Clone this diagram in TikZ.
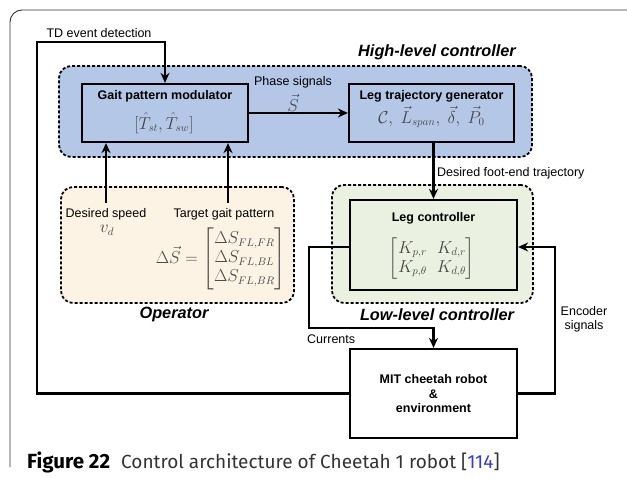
\documentclass[tikz,border=0pt]{standalone}
\usepackage{amsmath}
\usepackage{fontspec}
\setmainfont{Liberation Sans}
\newfontfamily\capfont{Fira Sans}
\usetikzlibrary{arrows.meta}
\definecolor{hlblue}{HTML}{B4C7E7}
\definecolor{opcream}{HTML}{FDF3E4}
\definecolor{llgreen}{HTML}{EBF1E1}
\definecolor{mathgray}{HTML}{484848}
\definecolor{refblue}{HTML}{3B3BD0}
\definecolor{capgray}{HTML}{333333}
\tikzset{
  grp/.style={draw, line width=1.8pt, dash pattern=on 3pt off 2pt, rounded corners=12pt, inner sep=0},
  blk/.style={draw, line width=2.2pt, inner sep=0},
  conn/.style={line width=2.2pt},
  arr/.style={conn, -{Stealth[length=10pt,width=9pt]}},
  lbl/.style={font=\fontsize{12.5}{14}\selectfont, inner sep=0},
  ttl/.style={font=\fontsize{12.5}{14.5}\selectfont\bfseries, inner sep=0},
  grplbl/.style={font=\fontsize{16.3}{18}\selectfont\bfseries\itshape, inner sep=0},
  mth/.style={font=\fontsize{16}{19}\selectfont, text=mathgray, inner sep=0},
}
\begin{document}
\begin{tikzpicture}[x=1pt,y=-1pt]
\useasboundingbox (0,0) rectangle (627,478);
% outer frame
\draw[line width=0.9pt, black!80, rounded corners=12pt] (627,10) -- (10,10) -- (10,467);

% groups
\node[grp, fill=hlblue, minimum width=473pt, minimum height=91pt] (high) at (295.5,111.5) {};
\node[grp, fill=opcream, minimum width=233pt, minimum height=116pt] (oper) at (177.5,245) {};
\node[grp, fill=llgreen, minimum width=201pt, minimum height=118pt] (low) at (432.5,244) {};

\node[grplbl] (highlbl) at (437,52) {High-level controller};
\node[grplbl] (operlbl) at (174,315) {Operator};
\node[grplbl] (lowlbl) at (437,315) {Low-level controller};

% blocks
\node[blk, minimum width=166pt, minimum height=58pt] (gait) at (165,113) {};
\node[ttl] (gaitT) at (165,96) {Gait pattern modulator};
\node[mth] (gaitM) at (164,123) {$[\hat{T}_{st},\hat{T}_{sw}]$};

\node[blk, minimum width=165pt, minimum height=58pt] (ltg) at (431.5,113) {};
\node[ttl] (ltgT) at (431.5,96) {Leg trajectory generator};
\node[mth] (ltgM) at (431.5,117) {$\mathcal{C},\ \vec{L}_{span},\ \vec{\delta},\ \vec{P}_0$};

\node[blk, minimum width=167pt, minimum height=90pt] (legc) at (433.5,245) {};
\node[ttl] (legcT) at (433.5,218) {Leg controller};
\node[mth] (legcM) at (432,259) {$\begin{bmatrix} K_{p,r} & K_{d,r}\\ K_{p,\theta} & K_{d,\theta}\end{bmatrix}$};

\node[blk, minimum width=167pt, minimum height=89pt] (robot) at (433.5,393.5) {};
\node[ttl, align=center] (robotT) at (433.5,394) {MIT cheetah robot\\\&\\environment};

% operator contents
\node[lbl] (spd) at (106,214) {Desired speed};
\node[mth] (vd) at (107,230) {$v_d$};
\node[lbl] (tgp) at (224,214) {Target gait pattern};
\node[mth] (dS) at (221,259) {$\Delta\vec{S}=\begin{bmatrix}\Delta S_{FL,FR}\\ \Delta S_{FL,BL}\\ \Delta S_{FL,BR}\end{bmatrix}$};

% labels
\node[lbl] (tdlbl) at (99,33) {TD event detection};
\node[lbl] (phlbl) at (293,82) {Phase signals};
\node[mth] (phS) at (293,103) {$\vec{S}$};
\node[lbl, anchor=west] (dftlbl) at (437,173) {Desired foot-end trajectory};
\node[lbl, anchor=west] (curlbl) at (307,339) {Currents};
\node[lbl, align=center, font=\fontsize{12.5}{14}\selectfont] (enclbl) at (584,319) {Encoder\\signals};

% coordinates
\coordinate (fbL) at (37,42);
\coordinate (op1) at (106,203);
\coordinate (op2) at (228,203);
\coordinate (cur) at (309,247);
\coordinate (curB) at (309,328);
\coordinate (enc) at (555,247);

% connectors
\draw[arr] (robot.west) -| (fbL) -| (gait.north);
\draw[arr] (gait.east) -- (ltg.west);
\draw[arr] (op1) -- (op1 |- gait.south);
\draw[arr] (op2) -- (op2 |- gait.south);
\draw[arr] (legc.north |- ltg.south) -- (legc.north);
\draw[arr] (cur -| legc.west) -- (cur) -- (curB) -| (robot.north);
\draw[arr] (robot.east) -| (enc) -- (enc -| legc.east);

% caption
\node[anchor=base west, inner sep=0, font=\capfont\fontsize{19}{22}\selectfont, text=capgray] (cap) at (27,468)
  {{\bfseries\color{black}\fontsize{20.5}{22}\selectfont Figure 22}\hspace{11pt}Control architecture of Cheetah 1 robot [{\color{refblue}114}]};
\end{tikzpicture}
\end{document}
